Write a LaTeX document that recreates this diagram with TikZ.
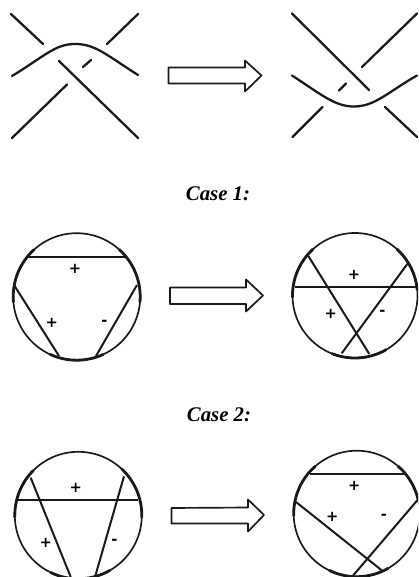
\documentclass[tikz,border=0pt]{standalone}
\usepackage{fontspec}
\setmainfont{Liberation Serif}
\newfontfamily\signfont{DejaVu Sans}
\tikzset{
  strand/.style={line width=1.7pt,line cap=round,black!90},
  chord/.style={line width=1.5pt,black!90},
  rim/.style={line width=1.25pt,black!90},
  rimthick/.style={line width=2.1pt,black!90},
  fat/.style={draw=black!90,line width=1.25pt,line join=round,fill=white},
  sign/.style={inner sep=0pt,font=\signfont\fontsize{11pt}{11pt}\selectfont\bfseries},
  caption/.style={inner sep=0pt,font=\fontsize{15.6pt}{16pt}\selectfont\itshape\bfseries}
}
\begin{document}
\begin{tikzpicture}[x=0.75pt,y=-0.75pt]
\useasboundingbox (0,0) rectangle (418,577);
\clip (0,0) rectangle (418,577);
% top knots
\draw[strand] (11,14)--(43,44);
\draw[strand] (138,14)--(107,44);
\draw[strand] (12,76) .. controls (45,56) and (55,44) .. (75,44) .. controls (95,44) and (105,54) .. (138,75);
\draw[strand] (59,61)--(138,138);
\draw[strand] (83,67)--(91,60);
\draw[strand] (12,138)--(67,84.5);
\draw[strand] (292,13.5)--(369,90);
\draw[strand] (417,13.5)--(362,67);
\draw[strand] (292,75.5) .. controls (322,95) and (335,106.5) .. (354,106.5) .. controls (375,106.5) and (388,92) .. (417,75.5);
\draw[strand] (339,90.5)--(346,83.5);
\draw[strand] (292.5,137)--(322.5,107);
\draw[strand] (385,107)--(417,137);
% arrows
\draw[fat] (168.5,67.5)--(245,67.5)--(245,60.5)--(261.5,75.5)--(245,91.5)--(245,83.5)--(168.5,83.5)--cycle;
\draw[fat] (170,287.5)--(246,287.5)--(246,279.5)--(263,295.5)--(246,311.5)--(246,304)--(170,304)--cycle;
\draw[fat] (171.5,508)--(248,507.5)--(248,499.5)--(264,515)--(248,531.5)--(248,523.5)--(171.5,523.5)--cycle;
% captions
\node[caption] (case1) at (218,194) {Case 1:};
\node[caption] (case2) at (219,414.5) {Case 2:};
% circle 1
\coordinate (c1) at (76.7,296.7);
\draw[rim] (c1) circle (63.5);
\draw[rimthick] (c1) ++(228:63.5) arc (228:175:63.5);
\draw[rimthick] (c1) ++(-48:63.5) arc (-48:5:63.5);
\draw[rimthick] (c1) ++(115:63.5) arc (115:65:63.5);
\coordinate (a1) at (28,257.3); \coordinate (a2) at (125,257.3);
\coordinate (a3) at (14,285);   \coordinate (a4) at (59,356);
\coordinate (a5) at (137,285);  \coordinate (a6) at (96,356);
\draw[chord] (a1)--(a2);
\draw[chord] (a3)--(a4);
\draw[chord] (a5)--(a6);
\node[sign] (s11) at (75,268.7) {+};
\node[sign] (s12) at (51.7,323.3) {+};
\node[sign] (s13) at (104.3,323.3) {-};
% circle 2
\coordinate (c2) at (355,295.5);
\draw[rim] (c2) circle (62.5);
\draw[rimthick] (c2) ++(228:62.5) arc (228:178:62.5);
\draw[rimthick] (c2) ++(-48:62.5) arc (-48:-5:62.5);
\draw[rimthick] (c2) ++(112:62.5) arc (112:60:62.5);
\coordinate (b1) at (295,286.7);  \coordinate (b2) at (416,286.7);
\coordinate (b3) at (308.3,256);  \coordinate (b4) at (369.3,354);
\coordinate (b5) at (407.3,264);  \coordinate (b6) at (341.7,353.3);
\draw[chord] (b1)--(b2);
\draw[chord] (b3)--(b4);
\draw[chord] (b5)--(b6);
\node[sign] (s21) at (354,275) {+};
\node[sign] (s22) at (330.7,314) {+};
\node[sign] (s23) at (382.3,313.3) {-};
% circle 3
\coordinate (c3) at (78.3,515.3);
\draw[rim] (c3) circle (63.5);
\draw[rimthick] (c3) ++(225:63.5) arc (225:178:63.5);
\draw[rimthick] (c3) ++(-47:63.5) arc (-47:2:63.5);
\draw[rimthick] (c3) ++(116:63.5) arc (116:60:63.5);
\coordinate (d1) at (17,500.3);   \coordinate (d2) at (138.3,500.3);
\coordinate (d3) at (30.7,477.7); \coordinate (d4) at (70.7,577);
\coordinate (d5) at (124,476.3);  \coordinate (d6) at (95,577);
\draw[chord] (d1)--(d2);
\draw[chord] (d3)--(d4);
\draw[chord] (d5)--(d6);
\node[sign] (s31) at (75.7,488) {+};
\node[sign] (s32) at (45.7,542.7) {+};
\node[sign] (s33) at (114.3,542) {-};
% circle 4
\coordinate (c4) at (356.7,513.7);
\draw[rim] (c4) circle (63);
\draw[rimthick] (c4) ++(229:63) arc (229:178:63);
\draw[rimthick] (c4) ++(-49:63) arc (-49:-12:63);
\draw[rimthick] (c4) ++(116:63) arc (116:60:63);
\coordinate (e1) at (310,474.3);  \coordinate (e2) at (405,474.3);
\coordinate (e3) at (296,502);    \coordinate (e4) at (381.7,570.3);
\coordinate (e5) at (417.3,500.3);\coordinate (e6) at (353.3,575.3);
\draw[chord] (e1)--(e2);
\draw[chord] (e3)--(e4);
\draw[chord] (e5)--(e6);
\node[sign] (s41) at (354.3,486) {+};
\node[sign] (s42) at (332.3,517) {+};
\node[sign] (s43) at (384,517) {-};
\end{tikzpicture}
\end{document}
